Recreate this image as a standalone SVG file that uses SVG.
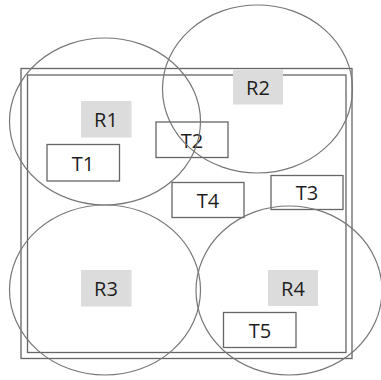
<svg xmlns="http://www.w3.org/2000/svg" width="381" height="380" viewBox="0 0 381 380">
  <style>
    .frame { fill: none; stroke: #666666; stroke-width: 1.3; }
    .range { fill: none; stroke: #777777; stroke-width: 1.2; }
    .rlabel { fill: #dcdcdc; stroke: none; }
    .tbox { fill: #ffffff; stroke: #666666; stroke-width: 1.3; }
    .lbl { font-family: "Open Sans", "Noto Sans", sans-serif; font-size: 20px; fill: #1e1e1e; text-anchor: middle; dominant-baseline: central; }
  </style>
  <rect width="381" height="380" fill="#ffffff"/>

  <!-- area boundary (double outline) -->
  <g id="area">
    <rect class="frame" x="21" y="68.5" width="331" height="290"/>
    <rect class="frame" x="27.5" y="75" width="318.5" height="277.5"/>
  </g>

  <!-- small boxes T1..T5 -->
  <g id="T1"><rect class="tbox" x="47" y="144.5" width="72.5" height="36.5"/><text class="lbl" x="83" y="163">T1</text></g>
  <g id="T2"><rect class="tbox" x="156" y="122" width="72" height="35.5"/><text class="lbl" x="192" y="140.5">T2</text></g>
  <g id="T3"><rect class="tbox" x="271" y="175.5" width="72" height="34"/><text class="lbl" x="307" y="192.5">T3</text></g>
  <g id="T4"><rect class="tbox" x="172" y="182.5" width="72" height="35"/><text class="lbl" x="208" y="200">T4</text></g>
  <g id="T5"><rect class="tbox" x="223.5" y="312.5" width="72.5" height="35"/><text class="lbl" x="260" y="330">T5</text></g>

  <!-- regions R1..R4: coverage ellipse with shaded label -->
  <g id="R1">
    <rect class="rlabel" x="81" y="101" width="50.5" height="36.5"/>
    <text class="lbl" x="106" y="119">R1</text>
    <ellipse class="range" cx="105" cy="121.5" rx="95.5" ry="83.5"/>
  </g>
  <g id="R2">
    <rect class="rlabel" x="233" y="69.5" width="50" height="35"/>
    <text class="lbl" x="258" y="87">R2</text>
    <ellipse class="range" cx="257.5" cy="89" rx="95" ry="84"/>
  </g>
  <g id="R3">
    <rect class="rlabel" x="81" y="270" width="50.5" height="36.5"/>
    <text class="lbl" x="106" y="288">R3</text>
    <ellipse class="range" cx="105" cy="290" rx="95.5" ry="85"/>
  </g>
  <g id="R4">
    <rect class="rlabel" x="268" y="270" width="50" height="36"/>
    <text class="lbl" x="293" y="288">R4</text>
    <ellipse class="range" cx="289" cy="290.5" rx="93" ry="84.5"/>
  </g>
</svg>
